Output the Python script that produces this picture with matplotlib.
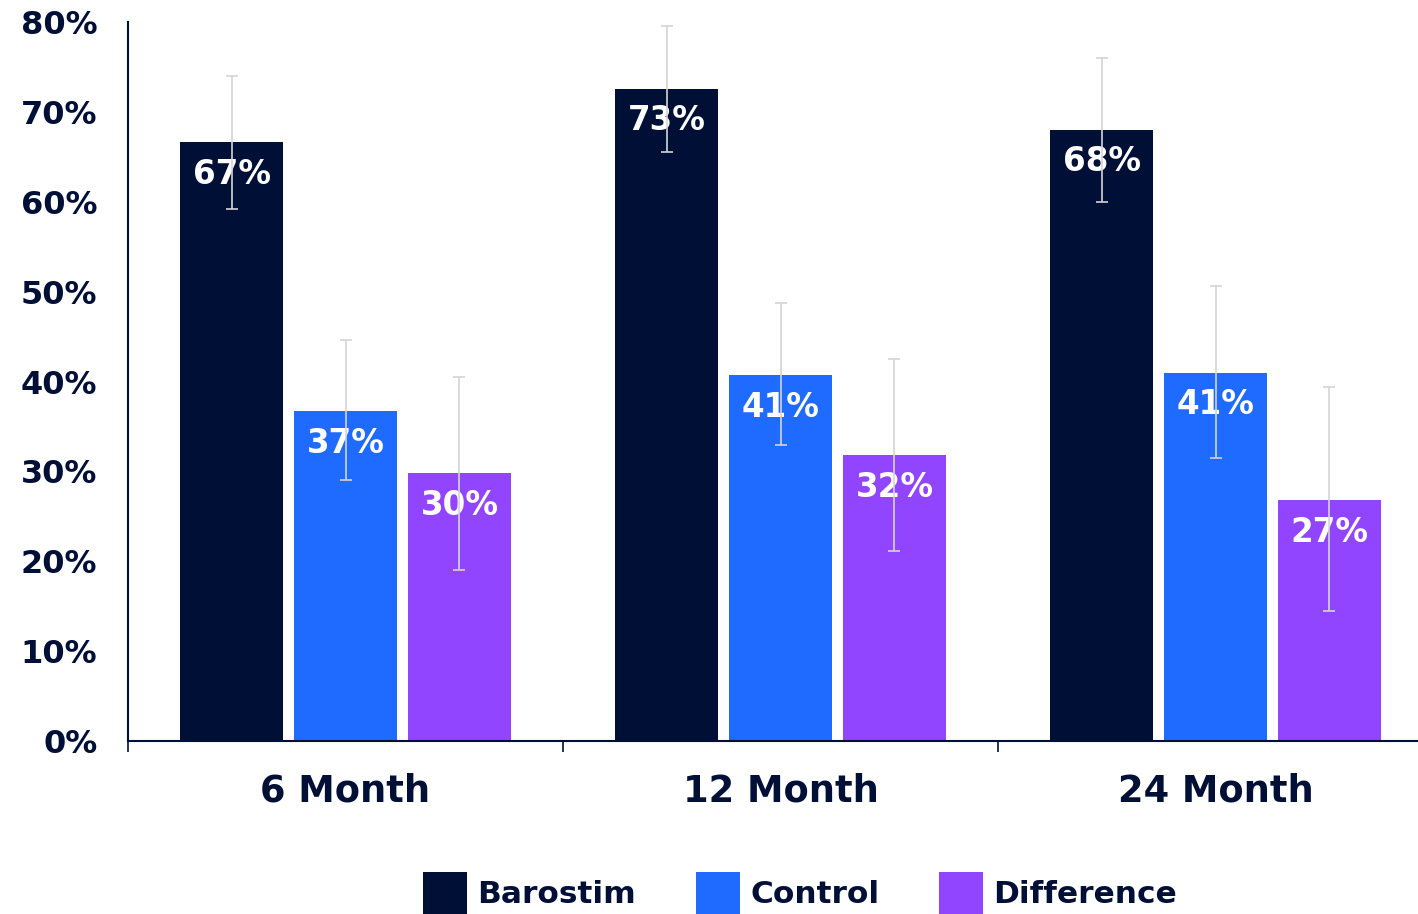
import numpy as np
import matplotlib
matplotlib.use('Agg')
from matplotlib import pyplot as plt

# data
categories = ['6 Month', '12 Month', '24 Month']
series_names = ['Barostim', 'Control', 'Difference']
barostim = [66.6, 72.6, 68.0]
control = [36.7, 40.7, 41.0]
difference = [29.8, 31.8, 26.8]
barostim_labels = ['67%', '73%', '68%']
control_labels = ['37%', '41%', '41%']
difference_labels = ['30%', '32%', '27%']
# error bar ends (percent)
barostim_lo = [59.2, 65.5, 60.0]
barostim_hi = [74.0, 79.6, 76.0]
control_lo = [29.0, 32.9, 31.5]
control_hi = [44.6, 48.7, 50.6]
difference_lo = [19.0, 21.1, 14.5]
difference_hi = [40.5, 42.5, 39.4]
y_ticks = [0, 10, 20, 30, 40, 50, 60, 70, 80]

navy = '#000F36'
colors = [navy, '#1F6BFF', '#9145FF']
errColor = '#D4D4D4'

plt.rcParams['font.family'] = ['DejaVu Sans']
plt.rcParams['font.weight'] = 'bold'

W, H = 1418, 914
fig = plt.figure(figsize=[W / 100, H / 100], dpi=100)
ax = fig.add_axes([128 / W, 1 - 741 / H, 1305 / W, (741 - 22) / H])

x = np.arange(len(categories))
offsets = [-0.262, 0.0, 0.262]
width = 0.237
allVals = [barostim, control, difference]
allLabels = [barostim_labels, control_labels, difference_labels]
allLo = [barostim_lo, control_lo, difference_lo]
allHi = [barostim_hi, control_hi, difference_hi]

handles = []
for i in range(3):
    vals = np.array(allVals[i], dtype=float)
    lo = np.array(allLo[i])
    hi = np.array(allHi[i])
    b = ax.bar(x + offsets[i], vals, width=width, color=colors[i], zorder=2)
    handles.append(b)
    for xi, v, lab in zip(x + offsets[i], vals, allLabels[i]):
        ax.annotate(lab, (xi, v), xytext=(0, -23), textcoords='offset points',
                    ha='center', va='center', color='white', fontsize=23.5,
                    fontweight='bold', zorder=3)
    ax.errorbar(x + offsets[i], vals, yerr=[vals - lo, hi - vals], fmt='none',
                ecolor=errColor, elinewidth=1.2, capsize=4, capthick=1.2, zorder=4)

ax.set_xlim(-0.5, 2.5)
ax.set_ylim(0, 80)
ax.set_yticks(y_ticks)
ax.set_yticklabels(['%d%%' % t for t in y_ticks])
ax.tick_params(axis='y', length=0, pad=22, labelsize=23, labelcolor=navy)

ax.set_xticks([-0.5, 0.5, 1.5, 2.5])
ax.set_xticklabels([])
ax.tick_params(axis='x', which='major', direction='out', length=8, width=1.2, color=navy)
ax.set_xticks(x, minor=True)
ax.set_xticklabels(categories, minor=True)
ax.tick_params(axis='x', which='minor', length=0, pad=23, labelsize=26.5, labelcolor=navy)

for side in ['top', 'right']:
    ax.spines[side].set_visible(False)
for side in ['left', 'bottom']:
    ax.spines[side].set_color(navy)
    ax.spines[side].set_linewidth(1.5)

fig.legend(handles, series_names, loc='center', bbox_to_anchor=(800 / W, 1 - 893 / H),
           ncol=3, frameon=False, fontsize=22.5, handlelength=1.43, handleheight=1.69,
           handletextpad=0.32, columnspacing=1.9, labelcolor=navy)

fig.savefig('out.png', dpi=100)
